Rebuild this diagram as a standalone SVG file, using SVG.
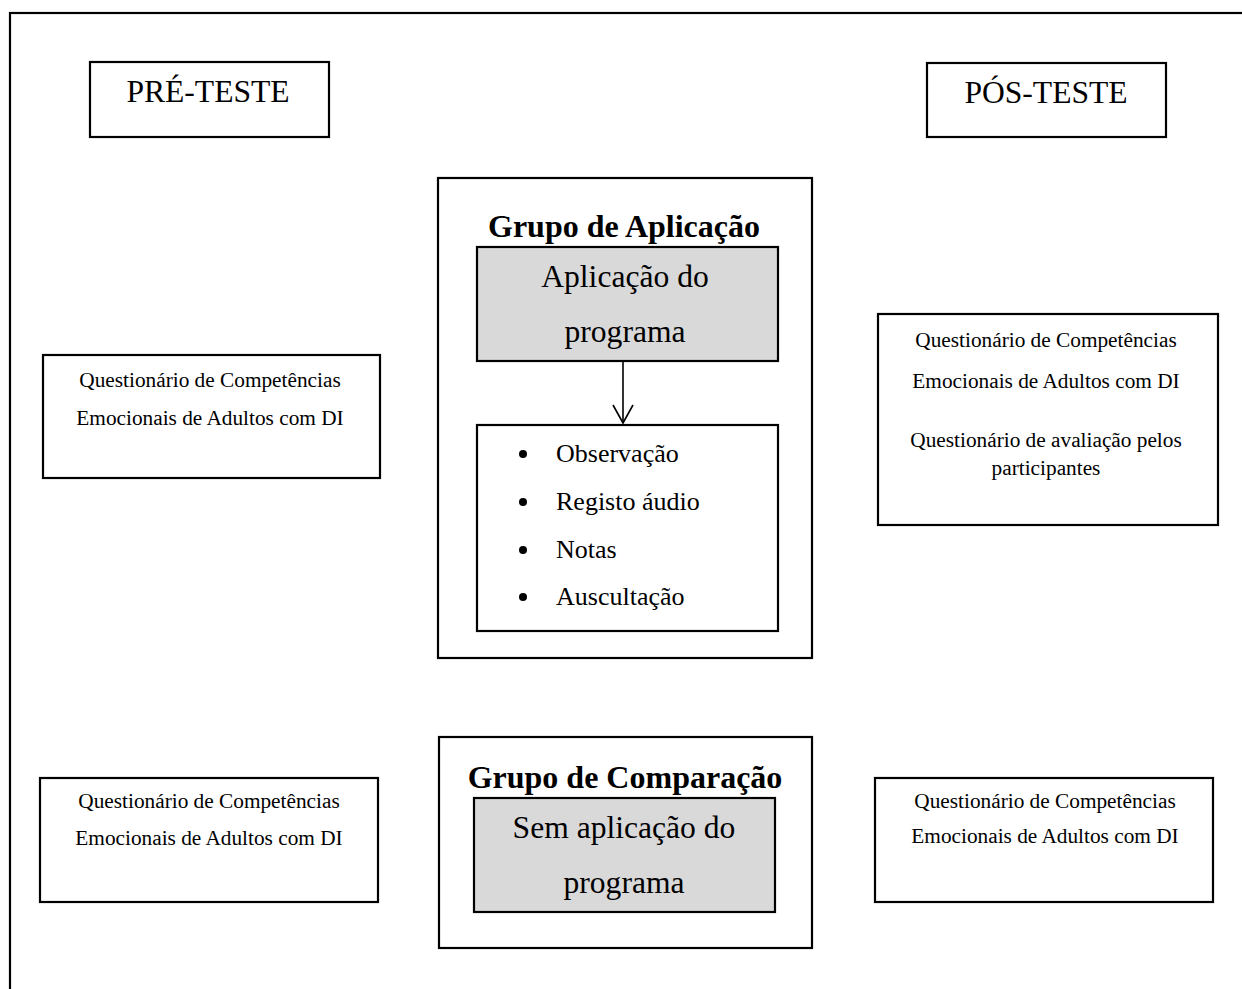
<svg xmlns="http://www.w3.org/2000/svg" width="1242" height="989" viewBox="0 0 1242 989">
<style>
.box{fill:#fff;stroke:#000;stroke-width:2.2}
.gray{fill:#d9d9d9;stroke:#000;stroke-width:2.2}
.t{font-family:"Liberation Serif","Times New Roman",serif;fill:#000;text-anchor:middle}
.hd{font-size:31.6px}
.ttl{font-size:32px;font-weight:bold}
.q{font-size:21.3px}
.bl{font-size:26px;text-anchor:start}
.conn{fill:none;stroke:#000;stroke-width:1.6}
</style>
<defs>
<marker id="open" markerUnits="userSpaceOnUse" markerWidth="24" markerHeight="24" refX="20" refY="12" orient="auto" viewBox="0 0 24 24">
<path d="M2,2 L20,12 L2,22" fill="none" stroke="#000" stroke-width="1.6"/>
</marker>
</defs>
<rect width="1242" height="989" fill="#fff"/>
<rect x="10" y="13" width="1260" height="1010" fill="none" stroke="#000" stroke-width="2.2"/>

<g id="pre-teste">
<rect class="box" x="90" y="62" width="239" height="75"/>
<text class="t hd" x="208" y="102">PRÉ-TESTE</text>
</g>
<g id="pos-teste">
<rect class="box" x="927" y="63" width="239" height="74"/>
<text class="t hd" x="1046" y="103">PÓS-TESTE</text>
</g>

<g id="grupo-aplicacao">
<rect class="box" x="438" y="178" width="374" height="480"/>
<text class="t ttl" x="624" y="237">Grupo de Aplicação</text>
</g>
<g id="aplicacao-programa">
<rect class="gray" x="477" y="247" width="301" height="114"/>
<text class="t hd" x="625" y="287">Aplicação do</text>
<text class="t hd" x="625" y="342">programa</text>
</g>
<g id="registos">
<rect class="box" x="477" y="425" width="301" height="206"/>
<circle cx="523" cy="454" r="4"/>
<circle cx="523" cy="502" r="4"/>
<circle cx="523" cy="550" r="4"/>
<circle cx="523" cy="597" r="4"/>
<text class="t bl" x="556" y="462">Observação</text>
<text class="t bl" x="556" y="510">Registo áudio</text>
<text class="t bl" x="556" y="558">Notas</text>
<text class="t bl" x="556" y="605">Auscultação</text>
</g>

<g id="pre-aplicacao">
<rect class="box" x="43" y="355" width="337" height="123"/>
<text class="t q" x="210" y="387">Questionário de Competências</text>
<text class="t q" x="210" y="425">Emocionais de Adultos com DI</text>
</g>
<g id="pos-aplicacao">
<rect class="box" x="878" y="314" width="340" height="211"/>
<text class="t q" x="1046" y="347">Questionário de Competências</text>
<text class="t q" x="1046" y="388">Emocionais de Adultos com DI</text>
<text class="t q" x="1046" y="447">Questionário de avaliação pelos</text>
<text class="t q" x="1046" y="475">participantes</text>
</g>

<g id="grupo-comparacao">
<rect class="box" x="439" y="737" width="373" height="211"/>
<text class="t ttl" x="625" y="788">Grupo de Comparação</text>
</g>
<g id="sem-aplicacao">
<rect class="gray" x="474" y="798" width="301" height="114"/>
<text class="t hd" x="624" y="838">Sem aplicação do</text>
<text class="t hd" x="624" y="893">programa</text>
</g>

<g id="pre-comparacao">
<rect class="box" x="40" y="778" width="338" height="124"/>
<text class="t q" x="209" y="808">Questionário de Competências</text>
<text class="t q" x="209" y="845">Emocionais de Adultos com DI</text>
</g>
<g id="pos-comparacao">
<rect class="box" x="875" y="778" width="338" height="124"/>
<text class="t q" x="1045" y="808">Questionário de Competências</text>
<text class="t q" x="1045" y="843">Emocionais de Adultos com DI</text>
</g>

<g id="connectors">
<path class="conn" d="M623,362 L623,423" marker-end="url(#open)"/>
</g>
</svg>
